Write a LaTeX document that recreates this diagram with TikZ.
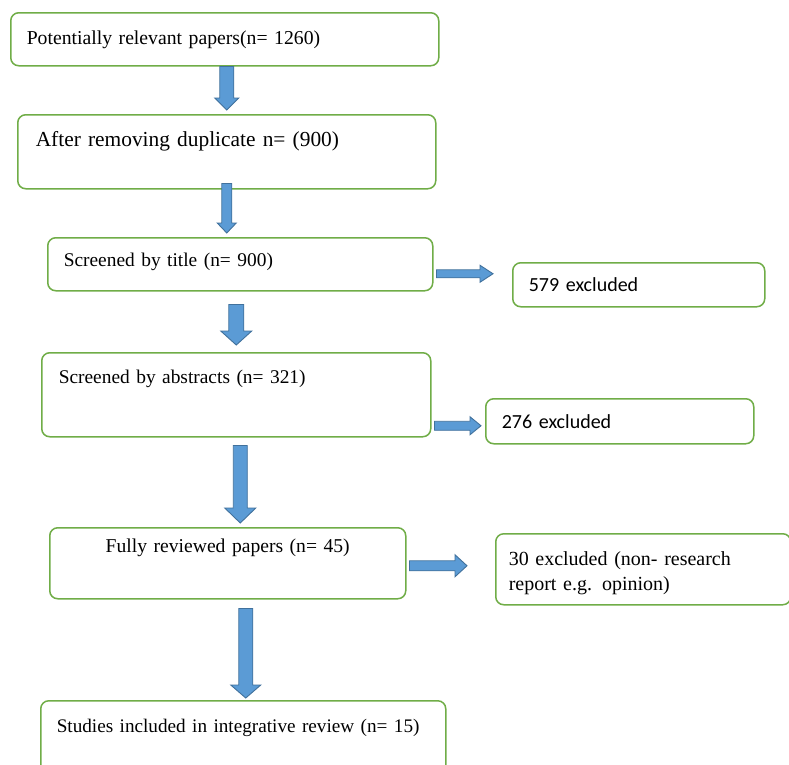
\documentclass[tikz,border=0pt]{standalone}
\usepackage{fontspec}
\setmainfont{Liberation Serif}
\newfontfamily\calibri{Carlito}
\usetikzlibrary{calc}
\definecolor{boxgreen}{HTML}{70AD47}
\definecolor{arrowfill}{HTML}{5B9BD5}
\definecolor{arrowline}{HTML}{41719C}
\tikzset{
  stage/.style={draw=boxgreen, line width=1.5pt, rounded corners=8pt, fill=white,
    anchor=north west, align=left, inner ysep=0pt, inner xsep=16pt},
  blockarrow/.style={draw=arrowline, fill=arrowfill, line width=0.9pt},
  blockdown/.style n args={3}{blockarrow, to path={let \p1=(\tikztostart), \p2=(\tikztotarget) in
    (\x1-#1,\y1) -- (\x1+#1,\y1) -- (\x1+#1,\y2+#3) -- (\x1+#2,\y2+#3)
    -- (\x1,\y2) -- (\x1-#2,\y2+#3) -- (\x1-#1,\y2+#3) -- cycle}},
  blockright/.style n args={3}{blockarrow, to path={let \p1=(\tikztostart), \p2=(\tikztotarget) in
    (\x1,\y1+#1) -- (\x1,\y1-#1) -- (\x2-#3,\y1-#1) -- (\x2-#3,\y1-#2)
    -- (\x2,\y1) -- (\x2-#3,\y1+#2) -- (\x2-#3,\y1+#1) -- cycle}}
}
\newcommand{\txtsize}[1]{\fontsize{#1}{1.25\dimexpr#1pt\relax}\selectfont}
\begin{document}
\begin{tikzpicture}[x=1pt, y=-1pt]
    \clip (0,0) rectangle (789,764);
    \fill[white] (0,0) rectangle (789,764);
    % main column
    \node[stage, text width=396pt, text height=32pt, text depth=21pt,
      font=\txtsize{19.7}] (S0) at (10,12) {Potentially relevant papers(n= 1260)};
    \node[stage, text width=382pt, text height=32pt, text depth=42pt, inner xsep=18pt,
      font=\txtsize{21.4}] (S1) at (17,114) {After removing duplicate n= (900)};
    \node[stage, text width=353pt, text height=29pt, text depth=24pt,
      font=\txtsize{19.4}] (S2) at (47,237) {Screened by title (n= 900)};
    \node[stage, text width=355pt, text height=31pt, text depth=53pt, inner xsep=17pt,
      font=\txtsize{19.4}] (S3) at (41,352) {Screened by abstracts (n= 321)};
    \node[stage, text width=324pt, text height=25pt, text depth=46pt, align=center,
      font=\txtsize{19.6}] (S4) at (49,527) {Fully reviewed papers (n= 45)};
    \node[stage, text width=373pt, text height=32pt, text depth=48pt,
      font=\txtsize{19.2}] (S5) at (40,700) {Studies included in integrative review (n=~15)};
    % excluded boxes
    \node[stage, text width=220pt, text height=29pt, text depth=15pt,
      font=\calibri\txtsize{20}] (X2) at (512,262) {579 excluded};
    \node[stage, text width=236pt, text height=30pt, text depth=15pt,
      font=\calibri\txtsize{20}] (X3) at (485,398) {276 excluded};
    \node[stage, text width=269pt, text height=32pt, text depth=39pt, inner xsep=13pt,
      font=\fontsize{20}{25pt}\selectfont] (X4) at (495,533)
      {30 excluded (non- research\\report e.g. opinion)};
    % arrows down
    \path ([xshift=2pt]S0.south) edge [blockdown={7pt}{12pt}{12pt}] ([yshift=4pt]S1.north);
    \path ([yshift=6pt]S1.south) edge [blockdown={5pt}{9.5pt}{10pt}] ([yshift=4pt]S2.north);
    \path ([xshift=-4pt,yshift=-13pt]S2.south) edge [blockdown={7.5pt}{15.5pt}{14pt}] ([yshift=7pt]S3.north);
    \path ([xshift=4pt,yshift=-8pt]S3.south) edge [blockdown={7pt}{15.5pt}{15pt}] ([yshift=4pt]S4.north);
    \path ([xshift=18pt,yshift=-9pt]S4.south) edge [blockdown={7pt}{15pt}{13pt}] ([yshift=2pt]S5.north);
    % arrows right
    \path ([xshift=3pt,yshift=-9.5pt]S2.east) edge [blockright={4pt}{8.5pt}{13pt}] ([xshift=-19pt]X2.west);
    \path ([xshift=3pt,yshift=-31pt]S3.east) edge [blockright={4.5pt}{9pt}{11pt}] ([xshift=-4pt]X3.west);
    \path ([xshift=3pt,yshift=-2.5pt]S4.east) edge [blockright={5pt}{11pt}{12pt}] ([xshift=-28pt]X4.west);
\end{tikzpicture}
\end{document}
